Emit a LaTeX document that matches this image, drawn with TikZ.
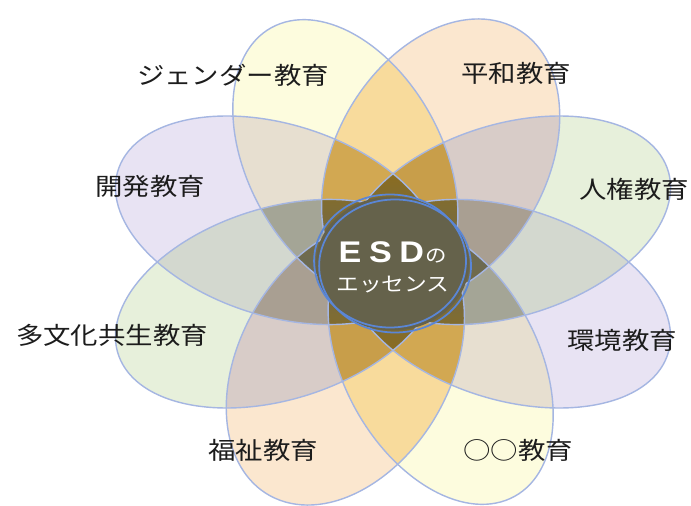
\documentclass[tikz,border=0pt]{standalone}
\usepackage{fontspec}
\setmainfont{Liberation Sans}
\newfontfamily\jp{Noto Sans CJK JP}
\definecolor{cY}{HTML}{FDFCDE}
\definecolor{cP}{HTML}{FBE7CF}
\definecolor{cL}{HTML}{E8E3F3}
\definecolor{cG}{HTML}{E7F0DB}
\definecolor{cYP}{HTML}{F8DB9C}
\definecolor{cYL}{HTML}{E7DFD0}
\definecolor{cPG}{HTML}{D8CCC8}
\definecolor{cLG}{HTML}{D3D8CF}
\definecolor{cYG}{HTML}{C9C7A4}
\definecolor{cPL}{HTML}{CDBBA6}
\definecolor{cYPL}{HTML}{D2A852}
\definecolor{cYPG}{HTML}{C89E4A}
\definecolor{cYLG}{HTML}{A4A596}
\definecolor{cPLG}{HTML}{A99F92}
\definecolor{cQg}{HTML}{8E6D1A}
\definecolor{cQo}{HTML}{6C6A52}
\definecolor{cEdge}{HTML}{A5B6E2}
\definecolor{cRing}{HTML}{5A86D6}
\definecolor{cCore}{HTML}{65624B}
\definecolor{cText}{HTML}{1C1C1C}
\tikzset{
  petals/.style={insert path={(109,0) ellipse (149 and 94.5) (-109,0) ellipse (149 and 94.5)}},
  thinpetals/.style={insert path={(109,0) ellipse (149 and 87) (-109,0) ellipse (149 and 87)}},
  UY/.style={rotate=112.5, thinpetals},
  UP/.style={rotate=67.5, petals},
  UL/.style={rotate=157.5, petals},
  UG/.style={rotate=22.5, petals},
  edge/.style={draw=cEdge, line width=1.2pt},
  ring/.style={draw=cRing, line width=1.5pt},
  lbl/.style={font=\jp\fontsize{20.5}{24}\selectfont, text=cText, inner sep=0pt, xscale=1.142, transform shape},
}
\begin{document}
\begin{tikzpicture}[x=0.3mm, y=0.3mm]
\useasboundingbox (0,0) rectangle (691,505);
\fill[white] (0,0) rectangle (691,505);
\begin{scope}[shift={(393,243)}, xscale=1.142]
  % single fills
  \fill[cY, UY];
  \fill[cP, UP];
  \fill[cL, UL];
  \fill[cG, UG];
  % pairs
  \begin{scope}\clip[UY]; \fill[cYP, UP]; \end{scope}
  \begin{scope}\clip[UY]; \fill[cYL, UL]; \end{scope}
  \begin{scope}\clip[UY]; \fill[cYG, UG]; \end{scope}
  \begin{scope}\clip[UP]; \fill[cPL, UL]; \end{scope}
  \begin{scope}\clip[UP]; \fill[cPG, UG]; \end{scope}
  \begin{scope}\clip[UL]; \fill[cLG, UG]; \end{scope}
  % triples
  \begin{scope}\clip[UY]; \clip[UP]; \fill[cYPL, UL]; \end{scope}
  \begin{scope}\clip[UY]; \clip[UP]; \fill[cYPG, UG]; \end{scope}
  \begin{scope}\clip[UY]; \clip[UL]; \fill[cYLG, UG]; \end{scope}
  \begin{scope}\clip[UP]; \clip[UL]; \fill[cPLG, UG]; \end{scope}
  % all four
  \begin{scope}\clip[UY]; \clip[UP]; \clip[UL]; \clip[UG];
    \shade[top color=cQg, bottom color=cQg, middle color=cQo] (-120,-100) rectangle (120,100);
  \end{scope}
  % outlines
  \draw[edge, UY];
  \draw[edge, UP];
  \draw[edge, UL];
  \draw[edge, UG];
  % core
  \fill[cCore] (-0.5,-1.5) circle (67);
  \draw[ring] (-2.6,1) circle (66.5);
  \draw[ring] (1.8,-4) circle (66.5);
\end{scope}
% centre text
\node[inner sep=0pt, text=white, xscale=1.142, transform shape] (esd) at (393,253)
  {\fontsize{25.5}{28}\selectfont\bfseries E\hspace{2mm}S\hspace{2mm}D\hspace{0.5mm}{\jp\mdseries\fontsize{16}{18}\selectfont の}};
\node[inner sep=0pt, text=white, xscale=1.142, transform shape] (ess) at (393,220)
  {\jp\fontsize{17}{20}\selectfont エッセンス};
% labels
\node[lbl] (gender) at (233,430) {ジェンダー教育};
\node[lbl] (heiwa) at (516,432) {平和教育};
\node[lbl] (kaihatsu) at (150,319) {開発教育};
\node[lbl] (jinken) at (634,316) {人権教育};
\node[lbl] (tabunka) at (112,170) {多文化共生教育};
\node[lbl] (kankyo) at (622,165) {環境教育};
\node[lbl] (fukushi) at (263,55) {福祉教育};
\node[lbl] (maru) at (518,55) {○○教育};
\end{tikzpicture}
\end{document}
